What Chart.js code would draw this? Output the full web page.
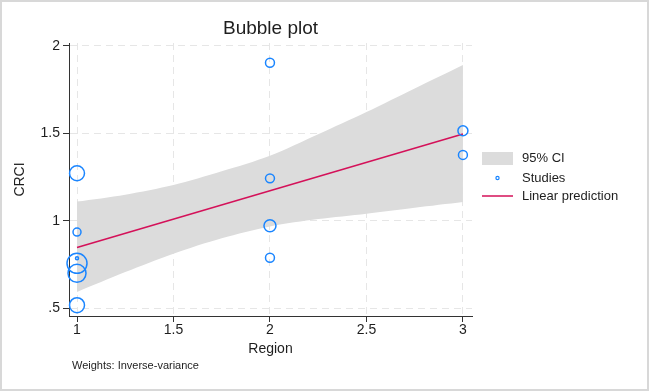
<!DOCTYPE html>
<html>
<head>
<meta charset="utf-8">
<script src="https://cdn.jsdelivr.net/npm/chart.js@4/dist/chart.umd.min.js"></script>
<style>
  html, body { margin:0; padding:0; background:#fff; }
</style>
</head>
<body>
<canvas id="bubbleChart" width="649" height="391"></canvas>
<script>
/* ===== Data ===== */
const TITLE = 'Bubble plot';
const NOTE  = 'Weights: Inverse-variance';

// one entry per study
const studyRegion = [1, 1, 1, 1, 1, 1, 2, 2, 2, 2, 3, 3];
const studyCRCI   = [1.272, 0.936, 0.786, 0.757, 0.700, 0.518, 1.904, 1.243, 0.972, 0.789, 1.515, 1.377];
const studyWeight = [56, 16, 2.3, 100, 81, 56, 20, 20, 36, 20, 25, 20];

// fitted line and its 95% band
const predX   = [1, 3];
const predY   = [0.848, 1.497];
const bandX   = [1, 1.25, 1.5, 1.75, 2, 2.25, 2.5, 2.75, 3];
const ciUpper = [1.110, 1.150, 1.205, 1.283, 1.372, 1.495, 1.622, 1.757, 1.891];
const ciLower = [0.593, 0.707, 0.812, 0.900, 0.968, 1.010, 1.041, 1.075, 1.108];

const xTicks = [1, 1.5, 2, 2.5, 3];
const xTickLabels = ['1', '1.5', '2', '2.5', '3'];
const yTicks = [0.5, 1, 1.5, 2];
const yTickLabels = ['.5', '1', '1.5', '2'];

const legendLabels = ['95% CI', 'Studies', 'Linear prediction'];

/* ===== Style ===== */
const FONT = "'Liberation Sans', Arial, sans-serif";
const C = {
  blue:'#1a85ff', red:'#d41159', band:'#dcdcdc',
  grid:'#e6e6e6', axis:'#333333', text:'#1e1e1e', frame:'#d8d8d8'
};

// title, note, legend and outer frame
const chrome = {
  id:'chrome',
  beforeDraw(chart){
    const c = chart.ctx;
    c.save();
    c.fillStyle = '#fff';
    c.fillRect(0, 0, chart.width, chart.height);
    c.restore();
  },
  afterDraw(chart){
    const c = chart.ctx;
    const {left, right} = chart.chartArea;
    c.save();
    c.strokeStyle = C.frame; c.lineWidth = 2;
    c.strokeRect(1, 1, chart.width - 2, chart.height - 2);

    c.fillStyle = C.text;
    c.textBaseline = 'middle';
    c.textAlign = 'center';
    c.font = '19px ' + FONT;
    c.fillText(TITLE, (left + right) / 2, 29);

    c.textAlign = 'left';
    c.font = '11px ' + FONT;
    c.fillText(NOTE, 72, 366);

    // legend
    const lx = 482, lw = 31, tx = 522;
    const ly = [158.5, 178, 196];
    c.fillStyle = C.band;
    c.fillRect(lx, ly[0] - 6.5, lw, 13);
    c.strokeStyle = C.blue; c.lineWidth = 1.2;
    c.beginPath(); c.arc(lx + lw / 2, ly[1], 1.6, 0, Math.PI * 2); c.stroke();
    c.strokeStyle = C.red; c.lineWidth = 1.5;
    c.beginPath(); c.moveTo(lx, ly[2]); c.lineTo(lx + lw, ly[2]); c.stroke();
    c.fillStyle = C.text;
    c.font = '13px ' + FONT;
    legendLabels.forEach((t, i) => c.fillText(t, tx, ly[i]));
    c.restore();
  }
};

const tickFont = {family:FONT, size:14};

new Chart(document.getElementById('bubbleChart'), {
  type:'bubble',
  plugins:[chrome],
  data:{
    datasets:[
      {type:'line', label:'CI lower', data:bandX.map((x, i) => ({x, y:ciLower[i]})),
       borderColor:'transparent', borderWidth:0, pointRadius:0, fill:false, tension:0.3, order:3},
      {type:'line', label:legendLabels[0], data:bandX.map((x, i) => ({x, y:ciUpper[i]})),
       borderColor:'transparent', borderWidth:0, pointRadius:0, backgroundColor:C.band, fill:'-1', tension:0.3, order:3},
      {type:'line', label:legendLabels[2], data:predX.map((x, i) => ({x, y:predY[i]})),
       borderColor:C.red, borderWidth:1.5, pointRadius:0, fill:false, order:2},
      {type:'bubble', label:legendLabels[1],
       data:studyRegion.map((x, i) => ({x, y:studyCRCI[i], r:Math.sqrt(studyWeight[i])})),
       borderColor:C.blue, backgroundColor:'transparent', borderWidth:1.5, clip:false, order:1},
    ]
  },
  options:{
    responsive:false, animation:false, events:[],
    layout:{padding:{top:43, right:177, bottom:0, left:0}},
    plugins:{legend:{display:false}, tooltip:{enabled:false}, title:{display:false}},
    scales:{
      x:{
        type:'linear', min:0.9585, max:3.047,
        afterBuildTicks:s => { s.ticks = xTicks.map(v => ({value:v})); },
        afterFit:s => { s.height = 75; },
        ticks:{callback:(v, i) => xTickLabels[i], font:tickFont, color:C.text, padding:0, maxRotation:0, autoSkip:false},
        grid:{color:C.grid, tickColor:C.axis, tickLength:6},
        border:{color:C.axis, dash:[7,5]},
        title:{display:true, text:'Region', font:tickFont, color:C.text, padding:{top:0, bottom:33}}
      },
      y:{
        type:'linear', min:0.456, max:2.017,
        afterBuildTicks:s => { s.ticks = yTicks.map(v => ({value:v})); },
        afterFit:s => { s.width = 69; },
        ticks:{callback:(v, i) => yTickLabels[i], font:tickFont, color:C.text, padding:3, autoSkip:false},
        grid:{color:C.grid, tickColor:C.axis, tickLength:6},
        border:{color:C.axis, dash:[7,5]},
        title:{display:true, text:'CRCI', font:tickFont, color:C.text, padding:{top:12, bottom:0}}
      }
    }
  }
});
</script>
</body>
</html>
